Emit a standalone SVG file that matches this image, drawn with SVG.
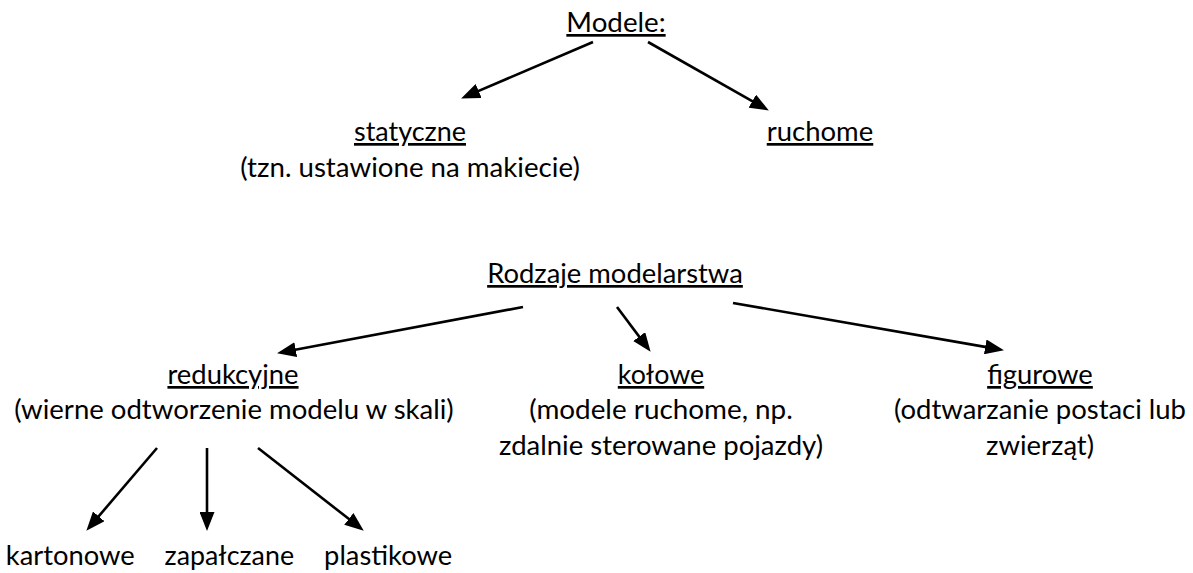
<svg xmlns="http://www.w3.org/2000/svg" width="1193" height="573" viewBox="0 0 1193 573">
<style>
text{font-family:Lato,"Open Sans","Liberation Sans",sans-serif;font-size:27px;fill:#000;text-anchor:middle}
.u{text-decoration:underline}
.c line{stroke:#000;stroke-width:2.6;marker-end:url(#ah)}
</style>
<defs>
<marker id="ah" markerUnits="userSpaceOnUse" markerWidth="19" markerHeight="15" refX="10" refY="7.5" orient="auto">
<path d="M0,0 L19,7.5 L0,15 z" fill="#000"/>
</marker>
</defs>
<rect width="1193" height="573" fill="#fff"/>
<g id="modele"><text class="u" x="616" y="32" textLength="99.3" lengthAdjust="spacingAndGlyphs">Modele:</text></g>
<g id="statyczne"><text class="u" x="410" y="141" textLength="112" lengthAdjust="spacingAndGlyphs">statyczne</text>
<text x="410" y="177" textLength="339.6" lengthAdjust="spacingAndGlyphs">(tzn. ustawione na makiecie)</text></g>
<g id="ruchome"><text class="u" x="820" y="141" textLength="106.5" lengthAdjust="spacingAndGlyphs">ruchome</text></g>
<g id="rodzaje"><text class="u" x="615" y="283" textLength="255.7" lengthAdjust="spacingAndGlyphs">Rodzaje modelarstwa</text></g>
<g id="redukcyjne"><text class="u" x="233" y="384" textLength="131.1" lengthAdjust="spacingAndGlyphs">redukcyjne</text>
<text x="234" y="419" textLength="439.4" lengthAdjust="spacingAndGlyphs">(wierne odtworzenie modelu w skali)</text></g>
<g id="kolowe"><text class="u" x="661" y="384" textLength="86.4" lengthAdjust="spacingAndGlyphs">kołowe</text>
<text x="661" y="419" textLength="263.6" lengthAdjust="spacingAndGlyphs">(modele ruchome, np.</text>
<text x="661" y="455" textLength="324" lengthAdjust="spacingAndGlyphs">zdalnie sterowane pojazdy)</text></g>
<g id="figurowe"><text class="u" x="1040" y="384" textLength="105.7" lengthAdjust="spacingAndGlyphs">figurowe</text>
<text x="1040" y="419" textLength="292" lengthAdjust="spacingAndGlyphs">(odtwarzanie postaci lub</text>
<text x="1040" y="455" textLength="108" lengthAdjust="spacingAndGlyphs">zwierząt)</text></g>
<g id="kartonowe"><text x="70.2" y="565" textLength="128.8" lengthAdjust="spacingAndGlyphs">kartonowe</text></g>
<g id="zapalczane"><text x="229.3" y="565" textLength="129.5" lengthAdjust="spacingAndGlyphs">zapałczane</text></g>
<g id="plastikowe"><text x="388.1" y="565" textLength="128" lengthAdjust="spacingAndGlyphs">plastikowe</text></g>
<g id="connectors" class="c">
<line x1="593" y1="42" x2="469.4" y2="94.9"/>
<line x1="648" y1="42" x2="761" y2="106.1"/>
<line x1="523" y1="307" x2="285.9" y2="351.5"/>
<line x1="617" y1="307" x2="645.2" y2="344.6"/>
<line x1="733" y1="303" x2="995.1" y2="348.6"/>
<line x1="157" y1="448" x2="92.2" y2="523.9"/>
<line x1="207" y1="448" x2="207" y2="522"/>
<line x1="258" y1="448" x2="356.7" y2="525.1"/>
</g>
</svg>
